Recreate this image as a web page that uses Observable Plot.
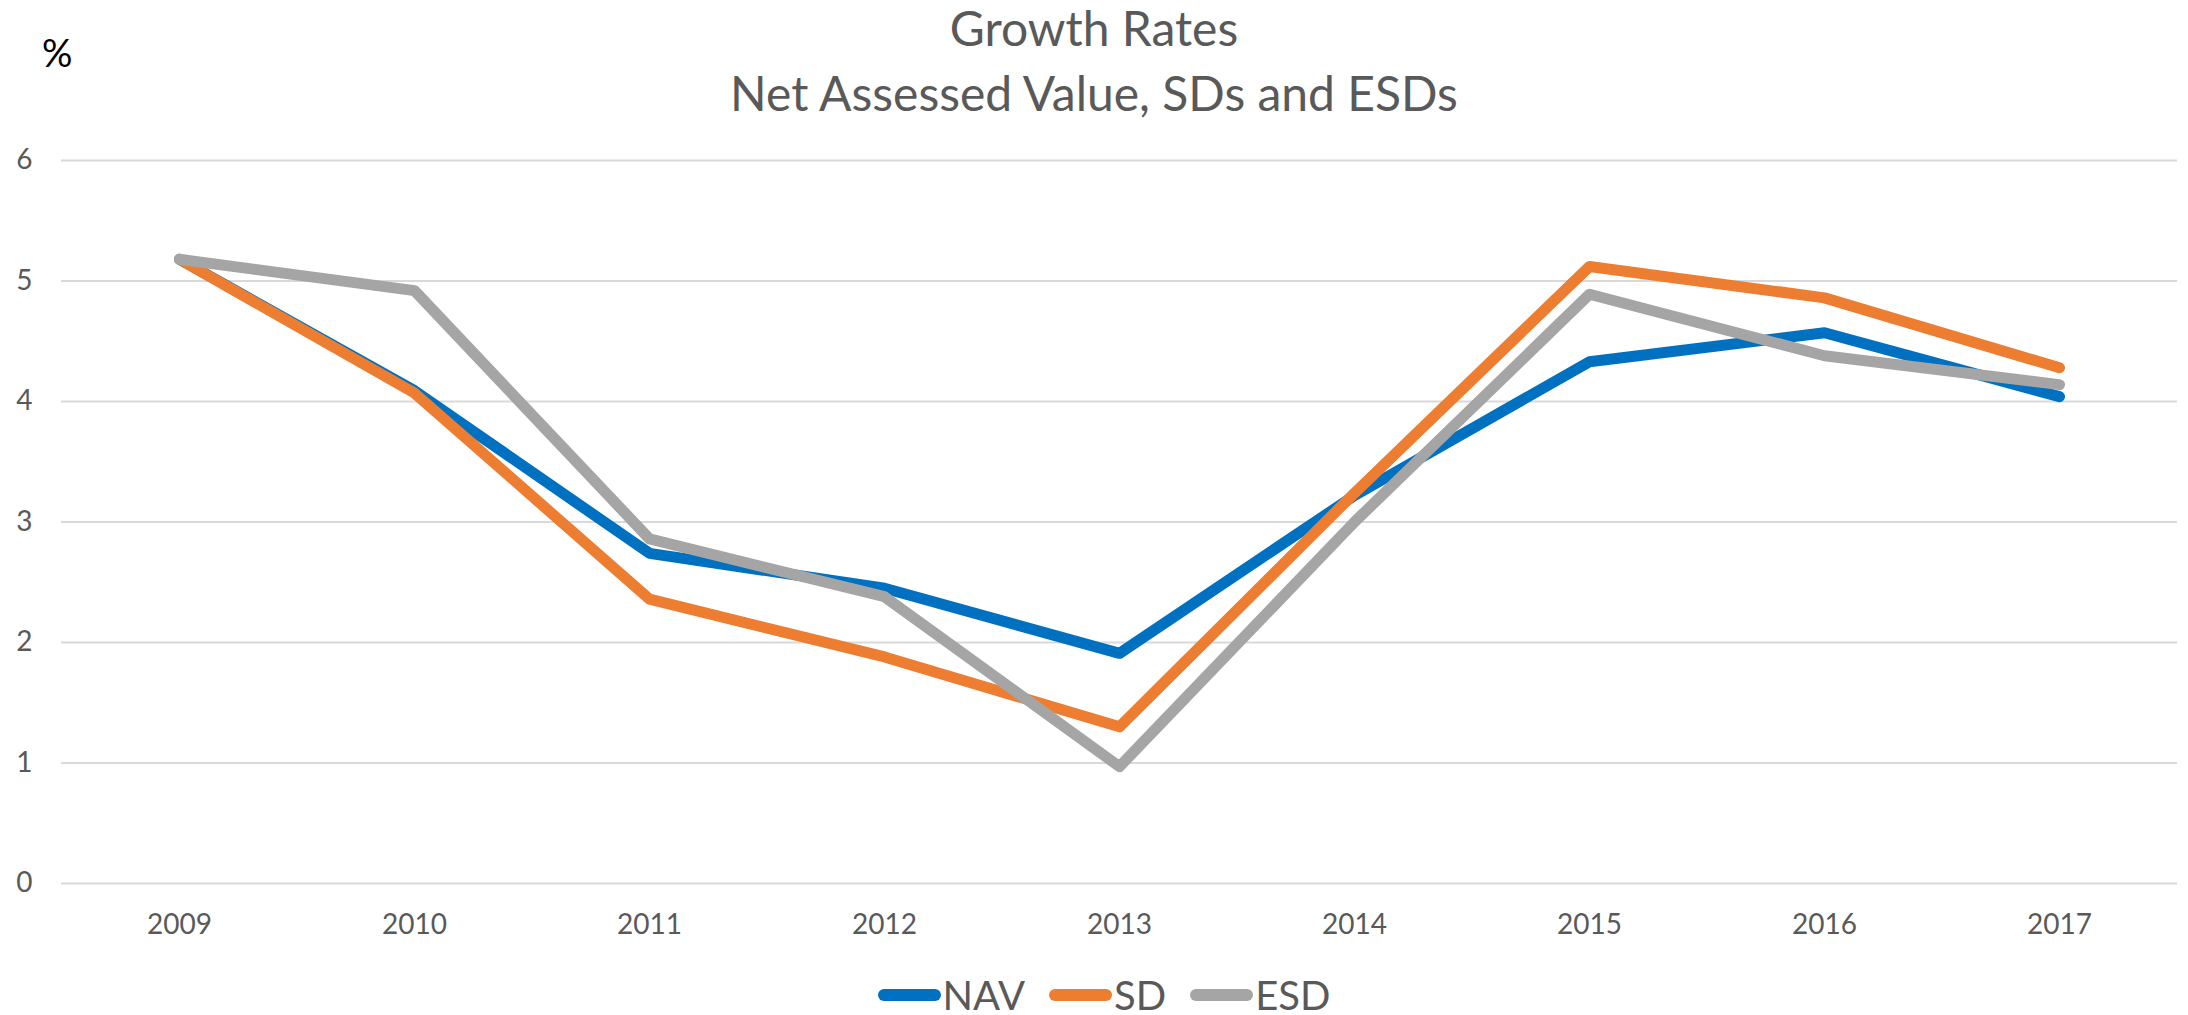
<!DOCTYPE html>
<html>
<head>
<meta charset="utf-8">
<script src="https://cdn.jsdelivr.net/npm/d3@7"></script>
<script src="https://cdn.jsdelivr.net/npm/@observablehq/plot@0.6"></script>
<style>
  html, body { margin: 0; padding: 0; background: #ffffff; }
  body { width: 2188px; height: 1015px; overflow: hidden; font-family: Lato, "Open Sans", sans-serif; }
  #header { position: relative; width: 2188px; height: 130px; }
  .t { position: absolute; left: 0; width: 2188px; text-align: center; color: #595959; font-size: 48px; line-height: 48px; white-space: nowrap; }
  #pct { position: absolute; left: 42px; top: 33px; font-size: 38px; line-height: 38px; color: #000000; }
  #chart { width: 2188px; height: 840px; }
  #legend { display: flex; justify-content: center; align-items: center; height: 50px; gap: 24px; padding-left: 20px; }
  .item { display: flex; align-items: center; gap: 2px; color: #595959; font-size: 40px; line-height: 40px; }
  .sw { width: 63px; height: 12px; border-radius: 6px; }
</style>
</head>
<body>
<div id="header">
  <div id="pct">%</div>
  <div class="t" style="top:4px">Growth Rates</div>
  <div class="t" style="top:69px">Net Assessed Value, SDs and ESDs</div>
</div>
<div id="chart"></div>
<div id="legend"></div>
<script>
const years = [2009, 2010, 2011, 2012, 2013, 2014, 2015, 2016, 2017];
const nav = [5.18, 4.09, 2.74, 2.45, 1.91, 3.22, 4.33, 4.57, 4.04];
const sd  = [5.18, 4.07, 2.36, 1.88, 1.30, 3.24, 5.12, 4.86, 4.28];
const esd = [5.18, 4.92, 2.86, 2.38, 0.97, 3.00, 4.89, 4.38, 4.14];
const seriesNames = ["NAV", "SD", "ESD"];
const seriesColors = ["#0070C0", "#ED7D31", "#A5A5A5"];
const yTicks = [0, 1, 2, 3, 4, 5, 6];

const seriesValues = [nav, sd, esd];
const rows = [];
seriesNames.forEach((name, i) => {
  years.forEach((yr, j) => rows.push({series: name, year: String(yr), value: seriesValues[i][j]}));
});

const plot = Plot.plot({
  width: 2188,
  height: 840,
  marginTop: 30,
  marginBottom: 87,
  marginLeft: 61,
  marginRight: 11,
  style: {fontFamily: "Lato, 'Open Sans', sans-serif", fontSize: "28px", color: "#595959", background: "#ffffff"},
  x: {type: "point", domain: years.map(String), padding: 0.5, label: null},
  y: {domain: [0, 6], label: null},
  color: {domain: seriesNames, range: seriesColors},
  marks: [
    Plot.ruleY(yTicks, {stroke: "#D9D9D9", strokeWidth: 2}),
    Plot.axisY({ticks: yTicks, tickSize: 0, tickPadding: 29, tickFormat: d => String(d), fill: "#595959", fontSize: 28, label: null}),
    Plot.axisX({tickSize: 0, tickPadding: 31, fill: "#595959", fontSize: 28, label: null}),
    ...seriesNames.map(name => Plot.line(rows.filter(r => r.series === name), {
      x: "year", y: "value", stroke: "series", strokeWidth: 11, strokeLinecap: "round", strokeLinejoin: "round"
    }))
  ]
});
document.getElementById("chart").appendChild(plot);

const legend = document.getElementById("legend");
seriesNames.forEach((name, i) => {
  const item = document.createElement("div");
  item.className = "item";
  const sw = document.createElement("div");
  sw.className = "sw";
  sw.style.background = seriesColors[i];
  const label = document.createElement("span");
  label.textContent = name;
  item.appendChild(sw);
  item.appendChild(label);
  legend.appendChild(item);
});
</script>
</body>
</html>
